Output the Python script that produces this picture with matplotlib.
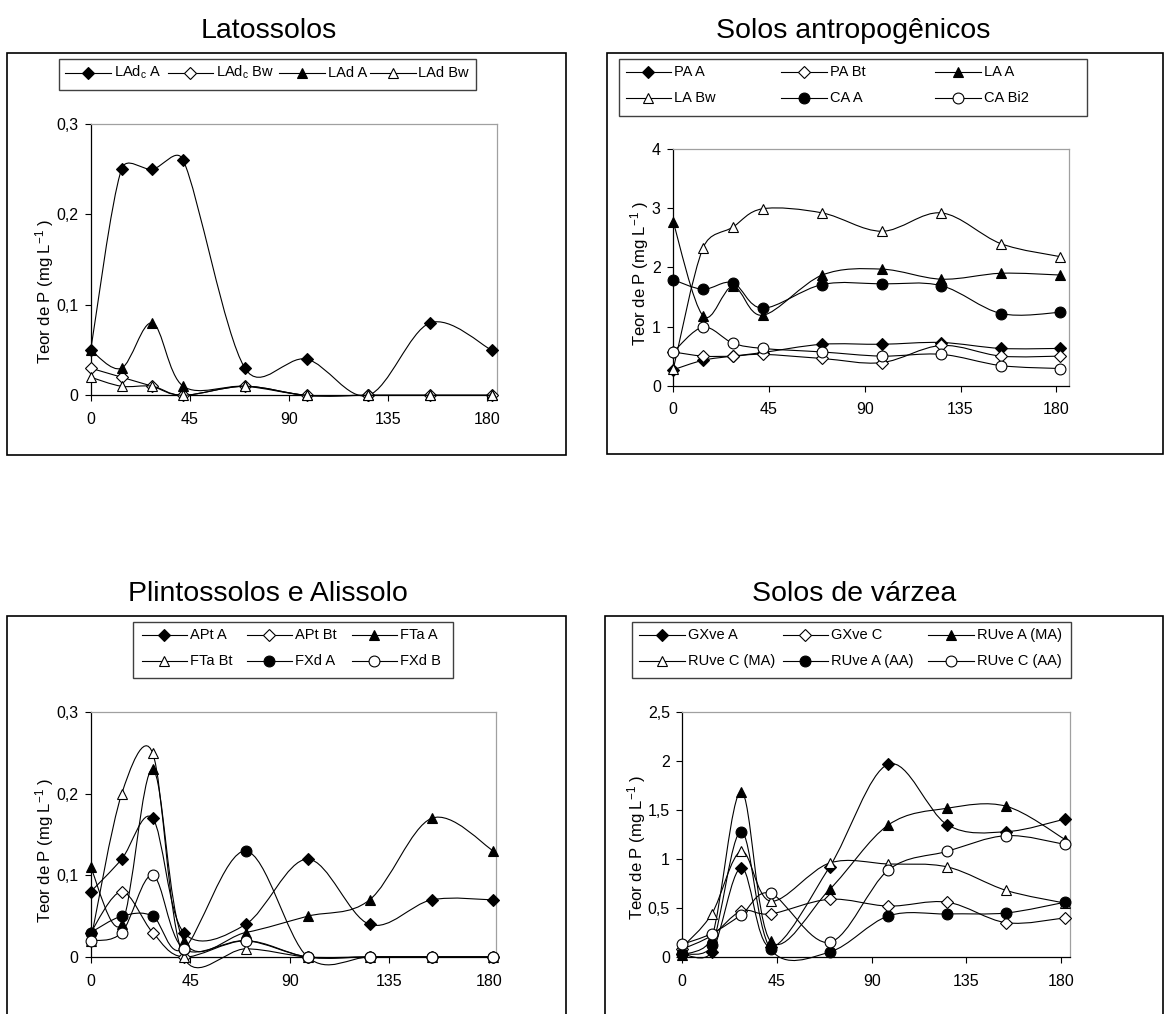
import numpy as np
import matplotlib
matplotlib.use("Agg")
import matplotlib.pyplot as plt
from matplotlib.path import Path
from matplotlib.patches import PathPatch, Rectangle
from matplotlib.lines import Line2D
from matplotlib.ticker import FixedLocator, FuncFormatter

plt.rcParams['font.family'] = ['Liberation Sans', 'DejaVu Sans']
plt.rcParams['mathtext.fontset'] = 'custom'
plt.rcParams['mathtext.rm'] = 'Liberation Sans'
plt.rcParams['mathtext.it'] = 'Liberation Sans:italic'

W, H = 1164, 1014

# sampling days (same for every series)
days = [0, 14, 28, 42, 70, 98, 126, 154, 182]

# Latossolos
lat_names = ["LAd$_\\mathrm{c}$ A", "LAd$_\\mathrm{c}$ Bw", "LAd A", "LAd Bw"]
lat_ladc_a = [0.05, 0.25, 0.25, 0.26, 0.03, 0.04, 0.00, 0.08, 0.05]
lat_ladc_bw = [0.03, 0.02, 0.01, 0.00, 0.01, 0.00, 0.00, 0.00, 0.00]
lat_lad_a = [0.05, 0.03, 0.08, 0.01, 0.01, 0.00, 0.00, 0.00, 0.00]
lat_lad_bw = [0.02, 0.01, 0.01, 0.00, 0.01, 0.00, 0.00, 0.00, 0.00]
lat_yticks = [0, 0.1, 0.2, 0.3]

# Solos antropogenicos
ant_names = ["PA A", "PA Bt", "LA A", "LA Bw", "CA A", "CA Bi2"]
ant_pa_a = [0.27, 0.43, 0.50, 0.56, 0.70, 0.70, 0.73, 0.63, 0.63]
ant_pa_bt = [0.57, 0.50, 0.50, 0.53, 0.46, 0.39, 0.68, 0.50, 0.50]
ant_la_a = [2.76, 1.18, 1.68, 1.19, 1.87, 1.97, 1.80, 1.90, 1.87]
ant_la_bw = [0.28, 2.33, 2.68, 2.99, 2.92, 2.61, 2.92, 2.40, 2.18]
ant_ca_a = [1.79, 1.63, 1.74, 1.31, 1.71, 1.72, 1.69, 1.22, 1.24]
ant_ca_bi2 = [0.57, 0.99, 0.72, 0.63, 0.57, 0.50, 0.53, 0.34, 0.29]
ant_yticks = [0, 1, 2, 3, 4]

# Plintossolos e Alissolo
pli_names = ["APt A", "APt Bt", "FTa A", "FTa Bt", "FXd A", "FXd B"]
pli_apt_a = [0.08, 0.12, 0.17, 0.03, 0.04, 0.12, 0.04, 0.07, 0.07]
pli_apt_bt = [0.03, 0.08, 0.03, 0.00, 0.02, 0.00, 0.00, 0.00, 0.00]
pli_fta_a = [0.11, 0.04, 0.23, 0.02, 0.03, 0.05, 0.07, 0.17, 0.13]
pli_fta_bt = [0.02, 0.20, 0.25, 0.00, 0.01, 0.00, 0.00, 0.00, 0.00]
pli_fxd_a = [0.03, 0.05, 0.05, 0.01, 0.13, 0.00, 0.00, 0.00, 0.00]
pli_fxd_b = [0.02, 0.03, 0.10, 0.01, 0.02, 0.00, 0.00, 0.00, 0.00]
pli_yticks = [0, 0.1, 0.2, 0.3]

# Solos de varzea
var_names = ["GXve A", "GXve C", "RUve A (MA)", "RUve C (MA)", "RUve A (AA)", "RUve C (AA)"]
var_gxve_a = [0.03, 0.05, 0.91, 0.10, 0.92, 1.97, 1.35, 1.28, 1.41]
var_gxve_c = [0.08, 0.22, 0.47, 0.44, 0.59, 0.52, 0.56, 0.35, 0.40]
var_ruve_a_ma = [0.02, 0.20, 1.69, 0.16, 0.69, 1.35, 1.52, 1.54, 1.20]
var_ruve_c_ma = [0.10, 0.44, 1.08, 0.57, 0.96, 0.95, 0.92, 0.68, 0.55]
var_ruve_a_aa = [0.03, 0.12, 1.28, 0.08, 0.05, 0.42, 0.44, 0.45, 0.56]
var_ruve_c_aa = [0.13, 0.24, 0.43, 0.65, 0.15, 0.89, 1.08, 1.24, 1.15]
var_yticks = [0, 0.5, 1, 1.5, 2, 2.5]

xticks = [0, 45, 90, 135, 180]

# marker styles, in series order
styles = [
    dict(marker='D', ms=6.0, mfc='black'),
    dict(marker='D', ms=6.0, mfc='white'),
    dict(marker='^', ms=7.5, mfc='black'),
    dict(marker='^', ms=7.5, mfc='white'),
    dict(marker='o', ms=7.8, mfc='black'),
    dict(marker='o', ms=7.8, mfc='white'),
]


def px(x, y):
    return x / W, 1 - y / H


def smooth_path(x, y, sx, sy):
    # Excel-like smoothed line: Catmull-Rom Bezier segments, computed in
    # screen units, with each handle capped at half the segment length
    pts = np.column_stack([np.asarray(x, float) * sx, np.asarray(y, float) * sy])
    n = len(pts)
    verts = [pts[0]]
    codes = [Path.MOVETO]
    for i in range(n - 1):
        p0 = pts[max(i - 1, 0)]
        p1 = pts[i]
        p2 = pts[i + 1]
        p3 = pts[min(i + 2, n - 1)]
        half = np.hypot(*(p2 - p1)) / 2
        t1 = (p2 - p0) / 6
        t2 = (p3 - p1) / 6
        for t in (t1, t2):
            ln = np.hypot(*t)
            if ln > half > 0:
                t *= half / ln
        verts += [p1 + t1, p2 - t2, p2]
        codes += [Path.CURVE4] * 3
    verts = np.array(verts) / [sx, sy]
    return Path(verts, codes)


def comma(v, pos=None):
    return f"{v:g}".replace('.', ',')


fig = plt.figure(figsize=(W / 100, H / 100), dpi=100)

panels = [
    dict(title="Latossolos", names=lat_names,
         series=[lat_ladc_a, lat_ladc_bw, lat_lad_a, lat_lad_bw], yticks=lat_yticks,
         frame=(7, 53, 566, 455), title_xy=(268.8, 38.5),
         ax=(90.7, 124, 496.7, 395.3), xmax=184.3, ylab=(45, 291),
         lbox=(58.7, 59, 476, 90),
         lcols=[65, 167.7, 279.3, 370], lrows=[72.7], ncol=4),
    dict(title="Solos antropogênicos", names=ant_names,
         series=[ant_pa_a, ant_pa_bt, ant_la_a, ant_la_bw, ant_ca_a, ant_ca_bi2],
         yticks=ant_yticks,
         frame=(607, 53, 1163, 454), title_xy=(853.3, 38),
         ax=(673.3, 149, 1069, 385.7), xmax=186, ylab=(640, 273),
         lbox=(619, 59, 1086.7, 115.7),
         lcols=[625.7, 781, 935], lrows=[71.7, 97.7], ncol=3),
    dict(title="Plintossolos e Alissolo", names=pli_names,
         series=[pli_apt_a, pli_apt_bt, pli_fta_a, pli_fta_bt, pli_fxd_a, pli_fxd_b],
         yticks=pli_yticks,
         frame=(7, 616, 566, 1030), title_xy=(268.3, 601),
         ax=(90.7, 712.3, 495.7, 957), xmax=183, ylab=(45, 850),
         lbox=(133.3, 621.7, 453.3, 678.3),
         lcols=[141.7, 246.7, 351.7], lrows=[635, 660.7], ncol=3),
    dict(title="Solos de várzea", names=var_names,
         series=[var_gxve_a, var_gxve_c, var_ruve_a_ma, var_ruve_c_ma,
                 var_ruve_a_aa, var_ruve_c_aa],
         yticks=var_yticks,
         frame=(605, 616, 1163, 1030), title_xy=(853.8, 601),
         ax=(682.3, 712.3, 1070, 957), xmax=184.3, ylab=(637, 847),
         lbox=(631.7, 621.7, 1070.7, 678.3),
         lcols=[639.3, 782.7, 928.3], lrows=[635, 660.7], ncol=3),
]

for p in panels:
    # outer chart frame
    fx0, fy0, fx1, fy1 = p['frame']
    fig.add_artist(Rectangle(px(fx0, fy1), (fx1 - fx0) / W, (fy1 - fy0) / H,
                             transform=fig.transFigure, fill=False,
                             edgecolor='black', lw=1.2))
    # title above the frame
    tx, ty = p['title_xy']
    fig.text(tx / W, 1 - ty / H, p['title'], fontsize=20.5, ha='center', va='baseline')

    l, t, r, b = p['ax']
    ax = fig.add_axes([l / W, 1 - b / H, (r - l) / W, (b - t) / H])
    ax.set_xlim(0, p['xmax'])
    ax.set_ylim(p['yticks'][0], p['yticks'][-1])
    ax.xaxis.set_major_locator(FixedLocator(xticks))
    ax.yaxis.set_major_locator(FixedLocator(p['yticks']))
    ax.yaxis.set_major_formatter(FuncFormatter(comma))
    ax.tick_params(direction='out', length=4, width=0.8, labelsize=11.5, color='black')
    ax.tick_params(axis='x', pad=8)
    ax.tick_params(axis='y', pad=5)
    for side in ['top', 'right']:
        ax.spines[side].set_color('#a0a0a0')
        ax.spines[side].set_linewidth(0.9)
    for side in ['left', 'bottom']:
        ax.spines[side].set_color('black')
        ax.spines[side].set_linewidth(0.9)

    sx = (r - l) / p['xmax']
    sy = (b - t) / (p['yticks'][-1] - p['yticks'][0])
    for k, vals in enumerate(p['series']):
        st = styles[k]
        patch = PathPatch(smooth_path(days, vals, sx, sy), fill=False, edgecolor='black',
                          lw=0.8, zorder=3 + k, clip_on=False)
        ax.add_patch(patch)
        ax.plot(days, vals, linestyle='none', marker=st['marker'], ms=st['ms'],
                mfc=st['mfc'], mec='black', mew=0.8, zorder=3 + k + 0.5, clip_on=False)

    lx, ly = p['ylab']
    fig.text(lx / W, 1 - ly / H, "Teor de P (mg L$^{-1}$ )", rotation=90,
             fontsize=12, ha='center', va='center')

    # legend box drawn by hand (Excel-like fixed columns)
    bx0, by0, bx1, by1 = p['lbox']
    fig.add_artist(Rectangle(px(bx0, by1), (bx1 - bx0) / W, (by1 - by0) / H,
                             transform=fig.transFigure, fill=False,
                             edgecolor='#404040', lw=1.0))
    seg = 45.5
    for k, name in enumerate(p['names']):
        row, col = divmod(k, p['ncol'])
        x0 = p['lcols'][col]
        y0 = p['lrows'][row]
        st = styles[k]
        xa, ya = px(x0, y0)
        xb, _ = px(x0 + seg, y0)
        fig.add_artist(Line2D([xa, xb], [ya, ya], transform=fig.transFigure,
                              color='black', lw=0.8))
        fig.add_artist(Line2D([(xa + xb) / 2], [ya], transform=fig.transFigure,
                              linestyle='none', marker=st['marker'], ms=st['ms'],
                              mfc=st['mfc'], mec='black', mew=0.8))
        fig.text(xb + 3 / W, ya, name, fontsize=10.5, ha='left', va='center')

fig.savefig("out.png", dpi=100)
